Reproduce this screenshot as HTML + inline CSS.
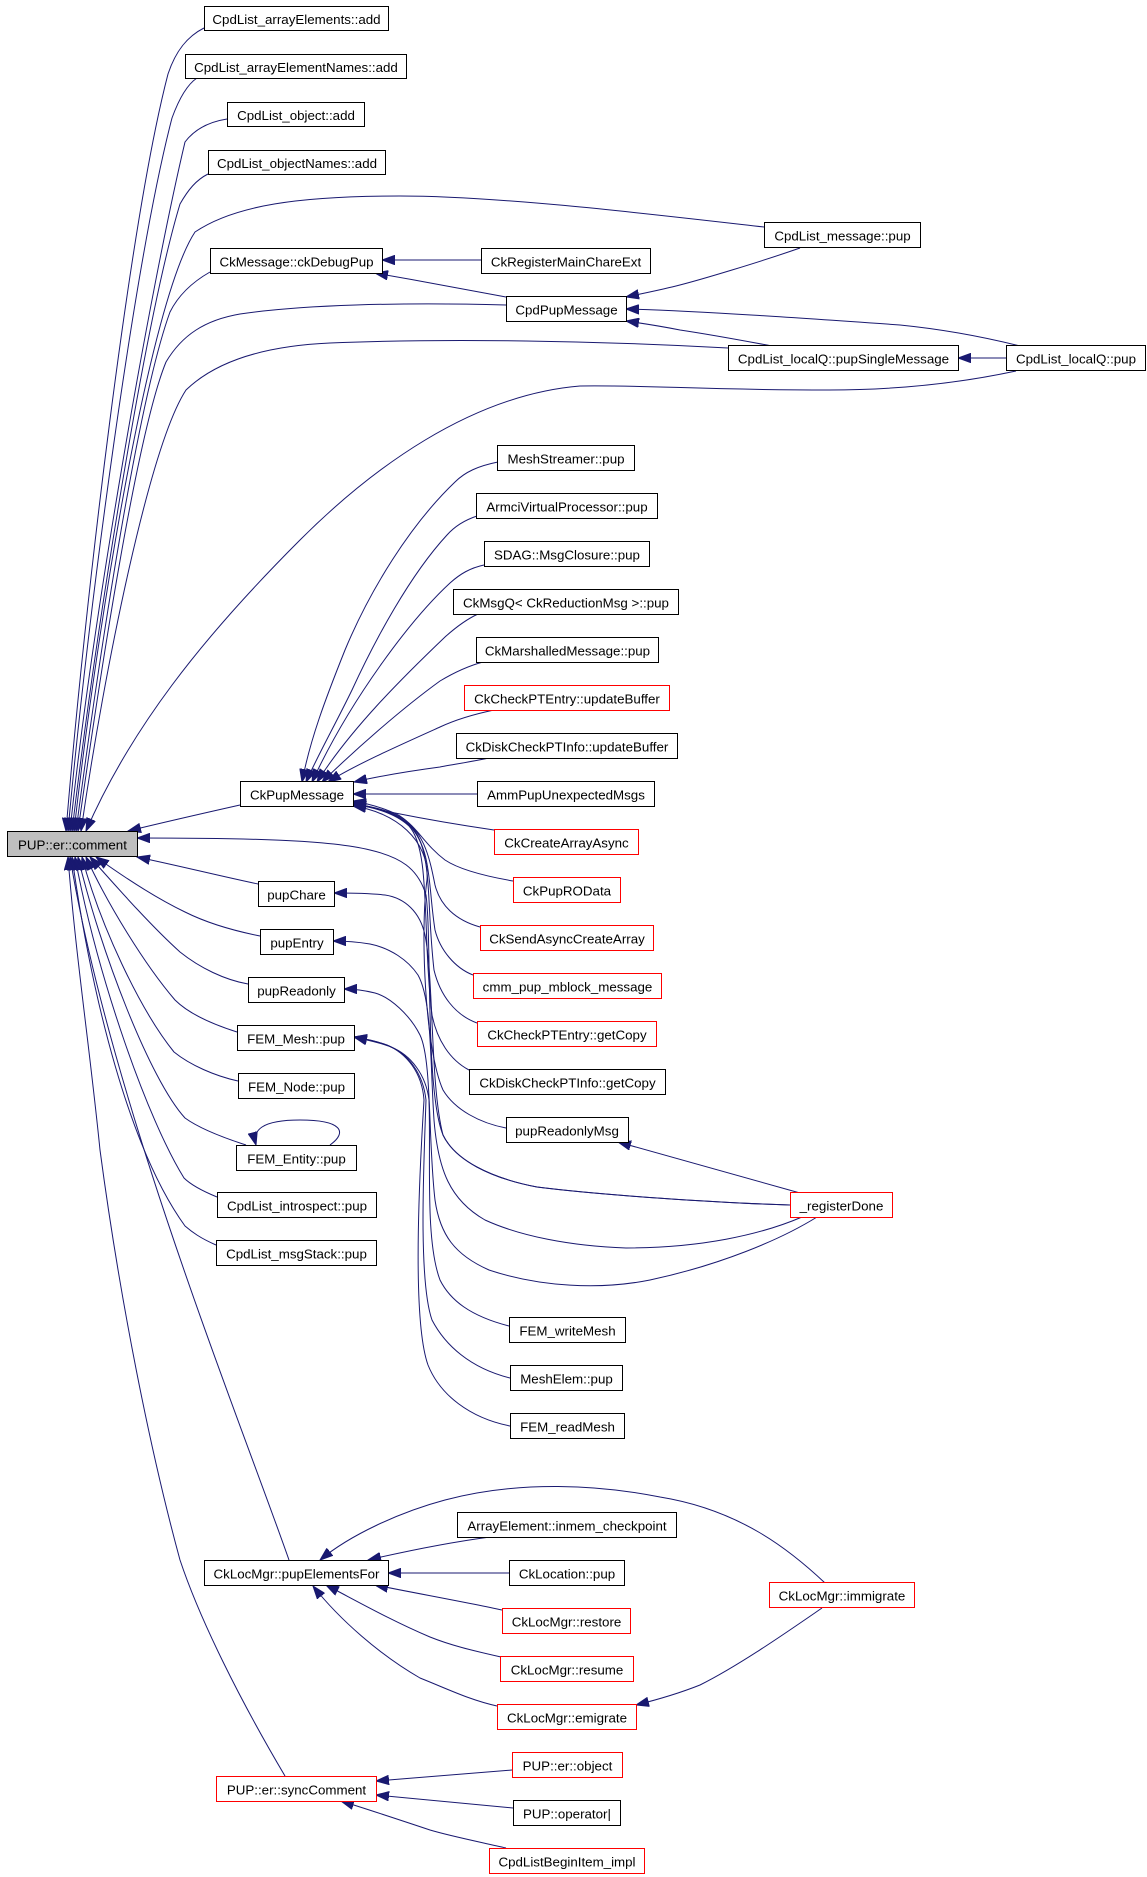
<!DOCTYPE html>
<html>
<head>
<meta charset="utf-8">
<style>
html,body{margin:0;padding:0;background:#fff;}
svg{display:block;}
.n{fill:#fff;stroke:#000;stroke-width:1;}
.r{fill:#fff;stroke:#ff0000;stroke-width:1;}
.g{fill:#bfbfbf;stroke:#000;stroke-width:1;}
.e{fill:none;stroke:#191970;stroke-width:1;marker-end:url(#a);}
text{font-family:"Liberation Sans",Arial,sans-serif;font-size:13.33px;fill:#000;text-anchor:middle;}
</style>
</head>
<body>
<svg width="1147" height="1877" viewBox="0 0 1147 1877" xmlns="http://www.w3.org/2000/svg">
<defs>
<marker id="a" markerWidth="14" markerHeight="10" refX="13" refY="5" orient="auto" markerUnits="userSpaceOnUse">
<path d="M0,0.3 L13,5 L0,9.7 z" fill="#191970" stroke="#191970" stroke-width="1"/>
</marker>
</defs>

<!-- edges -->
<g>
<path class="e" d="M204,28 C188,36 176,50 168,74 C130,220 85,600 66,831"/>
<path class="e" d="M197,78 C188,84 180,96 172,118 C135,260 88,610 68,831"/>
<path class="e" d="M227,119 C208,122 194,130 185,142 C150,290 92,620 70,831"/>
<path class="e" d="M208,174 C196,180 188,190 180,204 C145,320 96,630 72,831"/>
<path class="e" d="M764,227 C650,214 500,196 400,196 C300,196 235,205 195,232 C150,300 98,620 74,831"/>
<path class="e" d="M210,272 C196,280 180,292 170,312 C138,400 100,650 76,831"/>
<path class="e" d="M506,305 C400,302 300,305 240,314 C205,320 182,335 166,362 C138,430 102,660 78,831"/>
<path class="e" d="M728,348 C600,341 450,338 330,343 C262,346 215,362 186,390 C150,445 105,665 81,831"/>
<path class="e" d="M1016,371 C960,383 900,390 829,390 C700,390 650,385 580,386 C470,395 370,470 300,540 C200,640 130,730 86,831"/>

<path class="e" d="M481,260 L382,260"/>
<path class="e" d="M506,297 C470,290 420,281 375,273"/>

<path class="e" d="M800,248 C760,262 700,280 676,286 C660,290 645,293 626,297"/>
<path class="e" d="M1020,346 C980,336 940,329 900,325 C800,318 700,311 626,309"/>
<path class="e" d="M772,346 C740,340 700,333 680,330 C660,326 640,323 626,321"/>
<path class="e" d="M1006,358 L958,358"/>

<path class="e" d="M240,805 C200,814 165,822 128,831"/>

<path class="e" d="M498,462 C478,466 465,472 455,482 C410,525 370,590 345,650 C325,700 310,740 302,782"/>
<path class="e" d="M477,516 C465,520 455,526 447,535 C410,575 375,640 352,690 C335,725 318,755 306,782"/>
<path class="e" d="M484,565 C470,568 460,574 450,583 C410,620 350,700 312,782"/>
<path class="e" d="M478,614 C465,620 455,628 445,637 C400,680 350,730 317,782"/>
<path class="e" d="M483,662 C468,666 455,672 440,681 C400,710 355,750 322,782"/>
<path class="e" d="M494,710 C475,714 455,720 440,727 C400,745 355,765 328,782"/>
<path class="e" d="M489,758 C470,762 450,765 440,767 C410,771 380,776 354,782"/>
<path class="e" d="M477,794 L353,794"/>

<path class="e" d="M494,830 C460,825 420,818 395,813 C380,810 366,806 353,802"/>
<path class="e" d="M513,881 C490,877 460,870 445,860 C425,845 418,828 400,816 C385,808 370,804 353,801"/>
<path class="e" d="M480,927 C455,920 440,905 435,885 C430,860 425,835 405,820 C390,810 370,806 353,804"/>
<path class="e" d="M473,975 C455,968 440,950 435,930 C428,885 432,850 410,826 C395,812 370,806 353,804"/>
<path class="e" d="M477,1023 C455,1015 440,995 434,970 C426,900 433,850 411,826 C396,812 371,806 353,805"/>
<path class="e" d="M469,1070 C450,1060 437,1040 432,1015 C422,930 431,850 409,826 C394,812 369,806 353,805"/>
<path class="e" d="M506,1128 C480,1123 455,1110 443,1090 C425,1050 420,930 427,880 C430,840 395,812 353,806"/>

<path class="e" d="M258,884 C220,876 180,866 137,857"/>
<path class="e" d="M260,936 C230,930 205,922 185,912 C160,900 128,880 96,857"/>
<path class="e" d="M248,984 C225,980 200,968 180,952 C150,925 115,885 90,857"/>
<path class="e" d="M237,1032 C215,1025 190,1015 175,1000 C145,965 108,905 86,857"/>
<path class="e" d="M238,1081 C215,1076 190,1065 174,1052 C140,1010 100,925 82,857"/>
<path class="e" d="M246,1145 C215,1135 196,1126 185,1118 C150,1080 100,950 78,857"/>
<path class="e" d="M217,1197 C200,1190 190,1184 184,1178 C148,1120 98,980 75,857"/>
<path class="e" d="M216,1245 C200,1238 192,1232 185,1226 C130,1150 92,1000 72,857"/>
<path class="e" d="M289,1560 C240,1420 110,1100 70,857"/>
<path class="e" d="M285,1776 C240,1700 200,1620 180,1560 C150,1450 120,1300 100,1150 C90,1050 75,950 68,857"/>
<path class="e" d="M790,1205 C720,1203 600,1195 537,1187 C490,1178 455,1160 443,1135 C425,1090 432,940 426,895 C418,868 400,857 370,850 C330,840 250,838 137,838"/>

<path class="e" d="M330,1145 C348,1132 342,1120 300,1120 C262,1120 252,1130 256,1145"/>

<path class="e" d="M790,1205 C720,1203 600,1195 537,1187 C490,1178 455,1160 443,1135 C430,1085 434,980 425,935 C420,912 405,898 385,895 C368,893 350,893 334,893"/>
<path class="e" d="M802,1217 C760,1235 700,1248 626,1248 C570,1246 520,1236 485,1220 C450,1200 438,1170 434,1120 C430,1060 432,1000 418,975 C408,960 390,948 370,944 C358,942 345,941 333,941"/>
<path class="e" d="M817,1217 C780,1240 720,1265 650,1280 C600,1290 540,1287 489,1270 C455,1255 440,1235 435,1200 C428,1140 432,1060 420,1035 C410,1015 390,997 375,993 C363,990 352,989 344,989"/>
<path class="e" d="M800,1193 L618,1142"/>

<path class="e" d="M509,1326 C470,1316 450,1300 440,1280 C425,1240 431,1160 429,1100 C426,1075 411,1055 391,1047 C379,1042 366,1040 354,1037"/>
<path class="e" d="M510,1378 C470,1368 445,1345 432,1320 C418,1280 424,1160 426,1100 C423,1073 408,1054 389,1046 C377,1041 366,1039 354,1037"/>
<path class="e" d="M510,1426 C470,1418 440,1395 428,1365 C412,1320 419,1180 424,1100 C422,1072 406,1053 387,1045 C376,1041 365,1039 354,1037"/>

<path class="e" d="M490,1537 C460,1541 420,1548 368,1560"/>
<path class="e" d="M509,1573 L388,1573"/>
<path class="e" d="M502,1610 C470,1603 420,1594 375,1585"/>
<path class="e" d="M501,1657 C470,1650 450,1645 430,1637 C390,1620 355,1600 326,1585"/>
<path class="e" d="M497,1706 C470,1700 450,1690 420,1678 C380,1655 340,1620 313,1586"/>
<path class="e" d="M825,1583 C790,1550 740,1510 660,1497 C600,1485 520,1480 445,1500 C400,1512 350,1535 320,1560"/>
<path class="e" d="M822,1608 C790,1630 740,1665 700,1685 C680,1693 660,1699 636,1705"/>
<path class="e" d="M512,1770 L376,1781"/>
<path class="e" d="M513,1808 L376,1795"/>
<path class="e" d="M506,1848 C480,1842 450,1836 430,1830 C400,1820 370,1810 341,1801"/>
</g>

<!-- nodes -->
<g>
<rect class="n" x="204.5" y="6.5" width="184" height="24"/><text x="296.5" y="24">CpdList_arrayElements::add</text>
<rect class="n" x="185.5" y="54.5" width="221" height="24"/><text x="296" y="72">CpdList_arrayElementNames::add</text>
<rect class="n" x="227.5" y="102.5" width="137" height="24"/><text x="296" y="120">CpdList_object::add</text>
<rect class="n" x="208.5" y="150.5" width="177" height="24"/><text x="297" y="168">CpdList_objectNames::add</text>
<rect class="n" x="764.5" y="222.5" width="156" height="25"/><text x="842.5" y="240.5">CpdList_message::pup</text>
<rect class="n" x="210.5" y="248.5" width="172" height="25"/><text x="296.5" y="266.5">CkMessage::ckDebugPup</text>
<rect class="n" x="481.5" y="248.5" width="169" height="25"/><text x="566" y="266.5">CkRegisterMainChareExt</text>
<rect class="n" x="506.5" y="296.5" width="120" height="25"/><text x="566.5" y="314.5">CpdPupMessage</text>
<rect class="n" x="728.5" y="345.5" width="230" height="25"/><text x="843.5" y="363.5">CpdList_localQ::pupSingleMessage</text>
<rect class="n" x="1006.5" y="345.5" width="139" height="25"/><text x="1076" y="363.5">CpdList_localQ::pup</text>

<rect class="n" x="497.5" y="445.5" width="137" height="25"/><text x="566" y="463.5">MeshStreamer::pup</text>
<rect class="n" x="476.5" y="493.5" width="181" height="25"/><text x="567" y="511.5">ArmciVirtualProcessor::pup</text>
<rect class="n" x="484.5" y="541.5" width="165" height="25"/><text x="567" y="559.5">SDAG::MsgClosure::pup</text>
<rect class="n" x="453.5" y="589.5" width="225" height="25"/><text x="566" y="607.5">CkMsgQ&lt; CkReductionMsg &gt;::pup</text>
<rect class="n" x="476.5" y="637.5" width="182" height="25"/><text x="567.5" y="655.5">CkMarshalledMessage::pup</text>
<rect class="r" x="464.5" y="685.5" width="205" height="25"/><text x="567" y="703.5">CkCheckPTEntry::updateBuffer</text>
<rect class="n" x="456.5" y="733.5" width="221" height="25"/><text x="567" y="751.5">CkDiskCheckPTInfo::updateBuffer</text>
<rect class="n" x="477.5" y="781.5" width="177" height="25"/><text x="566" y="799.5">AmmPupUnexpectedMsgs</text>
<rect class="n" x="240.5" y="781.5" width="113" height="25"/><text x="297" y="799.5">CkPupMessage</text>
<rect class="g" x="7.5" y="831.5" width="130" height="25"/><text x="72.5" y="849.5">PUP::er::comment</text>
<rect class="r" x="494.5" y="829.5" width="144" height="25"/><text x="566.5" y="847.5">CkCreateArrayAsync</text>
<rect class="r" x="513.5" y="877.5" width="107" height="25"/><text x="567" y="895.5">CkPupROData</text>
<rect class="n" x="258.5" y="881.5" width="76" height="25"/><text x="296.5" y="899.5">pupChare</text>
<rect class="r" x="480.5" y="925.5" width="173" height="25"/><text x="567" y="943.5">CkSendAsyncCreateArray</text>
<rect class="n" x="260.5" y="929.5" width="73" height="25"/><text x="297" y="947.5">pupEntry</text>
<rect class="r" x="473.5" y="973.5" width="188" height="25"/><text x="567.5" y="991.5">cmm_pup_mblock_message</text>
<rect class="n" x="248.5" y="977.5" width="96" height="25"/><text x="296.5" y="995.5">pupReadonly</text>
<rect class="r" x="477.5" y="1021.5" width="179" height="25"/><text x="567" y="1039.5">CkCheckPTEntry::getCopy</text>
<rect class="n" x="237.5" y="1025.5" width="117" height="25"/><text x="296" y="1043.5">FEM_Mesh::pup</text>
<rect class="n" x="469.5" y="1069.5" width="196" height="25"/><text x="567.5" y="1087.5">CkDiskCheckPTInfo::getCopy</text>
<rect class="n" x="238.5" y="1073.5" width="116" height="25"/><text x="296.5" y="1091.5">FEM_Node::pup</text>
<rect class="n" x="506.5" y="1117.5" width="122" height="25"/><text x="567" y="1135.5">pupReadonlyMsg</text>
<rect class="n" x="236.5" y="1145.5" width="120" height="25"/><text x="296.5" y="1163.5">FEM_Entity::pup</text>
<rect class="r" x="790.5" y="1192.5" width="102" height="25"/><text x="841.5" y="1210.5">_registerDone</text>
<rect class="n" x="217.5" y="1192.5" width="159" height="25"/><text x="297" y="1210.5">CpdList_introspect::pup</text>
<rect class="n" x="216.5" y="1240.5" width="160" height="25"/><text x="296.5" y="1258.5">CpdList_msgStack::pup</text>
<rect class="n" x="509.5" y="1317.5" width="116" height="25"/><text x="567.5" y="1335.5">FEM_writeMesh</text>
<rect class="n" x="510.5" y="1365.5" width="112" height="25"/><text x="566.5" y="1383.5">MeshElem::pup</text>
<rect class="n" x="510.5" y="1413.5" width="114" height="25"/><text x="567.5" y="1431.5">FEM_readMesh</text>

<rect class="n" x="457.5" y="1512.5" width="219" height="25"/><text x="567" y="1530.5">ArrayElement::inmem_checkpoint</text>
<rect class="n" x="204.5" y="1560.5" width="184" height="25"/><text x="296.5" y="1578.5">CkLocMgr::pupElementsFor</text>
<rect class="n" x="509.5" y="1560.5" width="115" height="25"/><text x="567" y="1578.5">CkLocation::pup</text>
<rect class="r" x="769.5" y="1582.5" width="145" height="25"/><text x="842" y="1600.5">CkLocMgr::immigrate</text>
<rect class="r" x="502.5" y="1608.5" width="128" height="25"/><text x="566.5" y="1626.5">CkLocMgr::restore</text>
<rect class="r" x="500.5" y="1656.5" width="133" height="25"/><text x="567" y="1674.5">CkLocMgr::resume</text>
<rect class="r" x="497.5" y="1704.5" width="139" height="25"/><text x="567" y="1722.5">CkLocMgr::emigrate</text>
<rect class="r" x="512.5" y="1752.5" width="110" height="25"/><text x="567.5" y="1770.5">PUP::er::object</text>
<rect class="r" x="216.5" y="1776.5" width="160" height="25"/><text x="296.5" y="1794.5">PUP::er::syncComment</text>
<rect class="n" x="513.5" y="1800.5" width="107" height="25"/><text x="567" y="1818.5">PUP::operator|</text>
<rect class="r" x="489.5" y="1848.5" width="155" height="25"/><text x="567" y="1866.5">CpdListBeginItem_impl</text>
</g>
</svg>
</body>
</html>
